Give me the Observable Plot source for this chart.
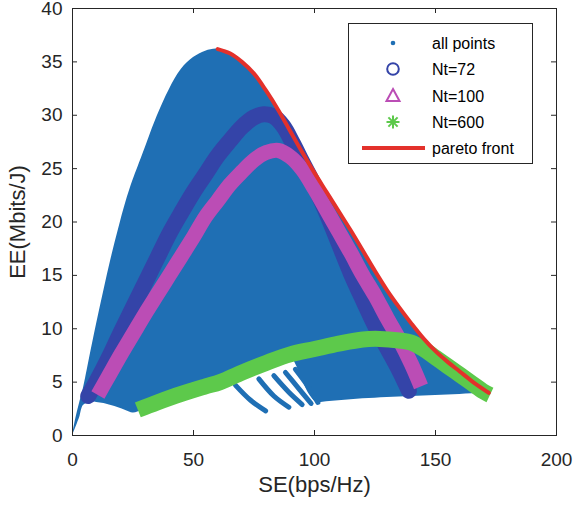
<!DOCTYPE html>
<html><head><meta charset="utf-8">
<script src="https://cdn.jsdelivr.net/npm/d3@7"></script>
<script src="https://cdn.jsdelivr.net/npm/@observablehq/plot@0.6"></script>
<style>
body{margin:0;background:#fff;}
#wrap{position:relative;width:576px;height:509px;font-family:"Liberation Sans",Arial,sans-serif;}
#legend{position:absolute;left:348px;top:23px;}
</style>
</head><body>
<div id="wrap"><div id="chart"></div><div id="legend"></div></div>
<script>
// ---- data ----
const xTicks = [0, 50, 100, 150, 200];
const yTicks = [0, 5, 10, 15, 20, 25, 30, 35, 40];

// "all points" region: SE positions with lower and upper EE envelope
const allSE = [0, 1, 2, 3, 4.5, 7, 10, 13, 16, 19, 22, 25, 27, 30, 35, 40, 45, 50, 55, 60, 65, 70, 75, 80, 85, 90, 92, 95, 98, 101, 105, 110, 115, 120, 125, 130, 135, 140, 145, 150, 155, 160, 165, 170, 172];
const allHi = [0, 1.2, 2.2, 3.1, 4.4, 7.2, 10.5, 13.6, 16.6, 19.3, 21.8, 23.9, 25.1, 26.9, 29.9, 32.4, 34.3, 35.4, 36.0, 36.2, 35.8, 35.0, 33.9, 32.3, 30.5, 28.5, 27.7, 26.5, 25.4, 24.4, 22.8, 21.0, 19.2, 17.3, 15.4, 13.6, 12.0, 10.5, 9.1, 7.9, 6.9, 6.0, 5.1, 4.3, 4.0];
const allLo = [0, 0.55, 1.1, 1.7, 2.8, 3.1, 3.1, 3.0, 2.8, 2.6, 2.35, 2.1, 2.2, 2.6, 3.1, 3.5, 3.9, 4.3, 4.6, 5.0, 5.4, 5.9, 6.3, 6.8, 7.2, 7.4, 6.8, 5.2, 3.8, 3.1, 3.15, 3.25, 3.35, 3.45, 3.5, 3.55, 3.6, 3.65, 3.7, 3.75, 3.8, 3.85, 3.9, 3.9, 3.9];

// stray arcs of "all points" below the Nt=600 curve
const arc1SE = [67.4, 73.6, 79.8], arc1EE = [4.7, 3.3, 2.3];
const arc2SE = [77.0, 83.2, 89.4], arc2EE = [5.3, 3.7, 2.65];
const arc3SE = [83.2, 89.4, 94.9], arc3EE = [5.6, 4.05, 2.9];
const arc4SE = [88.0, 93.5, 98.6], arc4EE = [5.9, 4.4, 3.0];
const arc5SE = [92.1, 97.0, 101.4], arc5EE = [6.2, 4.7, 3.1];

const nt72SE = [6.5, 10, 15, 20, 25, 30, 35, 40, 45, 50, 55, 60, 65, 70, 75, 79, 83, 87, 91, 95, 100, 105, 110, 115, 120, 125, 130, 135, 139];
const nt72EE = [3.7, 5.1, 7.3, 9.7, 12.0, 14.3, 16.6, 18.9, 20.9, 22.8, 24.5, 26.2, 27.6, 28.9, 29.8, 30.1, 29.9, 29.0, 27.4, 25.6, 23.4, 20.8, 18.0, 15.2, 12.7, 10.3, 8.2, 6.1, 4.2];

const nt100SE = [10.5, 15, 20, 25, 30, 35, 40, 45, 50, 55, 60, 65, 70, 75, 80, 85, 90, 95, 100, 105, 110, 115, 120, 125, 130, 135, 140, 144];
const nt100EE = [3.8, 5.6, 7.6, 9.5, 11.4, 13.2, 15.0, 16.8, 18.6, 20.5, 22.0, 23.5, 24.7, 25.8, 26.5, 26.7, 26.1, 24.9, 23.1, 21.1, 19.1, 17.1, 15.0, 13.1, 11.0, 9.0, 6.7, 4.6];

const nt600SE = [27, 35, 45, 55, 61, 70, 80, 90, 100, 110, 120, 127, 135, 140, 145, 150, 155, 160, 165, 170, 172.5];
const nt600EE = [2.4, 3.1, 3.9, 4.6, 5.0, 5.9, 6.8, 7.6, 8.1, 8.6, 9.0, 9.05, 8.9, 8.7, 8.1, 7.3, 6.5, 5.7, 4.9, 4.1, 3.8];

const paretoSE = [60, 65, 70, 75, 80, 85, 90, 95, 100, 105, 110, 115, 120, 125, 130, 135, 140, 145, 150, 155, 160, 165, 170, 172];
const paretoEE = [36.2, 35.8, 35.0, 33.9, 32.3, 30.5, 28.5, 26.5, 24.6, 22.8, 21.0, 19.2, 17.3, 15.4, 13.6, 12.0, 10.5, 9.1, 7.9, 6.9, 6.0, 5.1, 4.3, 4.0];

const legendLabels = ["all points", "Nt=72", "Nt=100", "Nt=600", "pareto front"];

// ---- styles ----
const cAll = "#1f6fb4", c72 = "#3444a8", c100 = "#bb4db5", c600 = "#5dc94b", cPareto = "#e3312b", ink = "#262626";
const W = 576, H = 509, mL = 72, mR = 20, mT = 8, mB = 74;
const plotW = W - mL - mR, plotH = H - mT - mB;

const rows = (xs, ys) => xs.map((x, i) => ({x, y: ys[i]}));
const allRows = allSE.map((x, i) => ({x, lo: allLo[i], hi: allHi[i]}));
const arcs = [[arc1SE, arc1EE], [arc2SE, arc2EE], [arc3SE, arc3EE], [arc4SE, arc4EE], [arc5SE, arc5EE]];
const smooth = "catmull-rom";

const chart = Plot.plot({
  width: W, height: H, marginLeft: mL, marginRight: mR, marginTop: mT, marginBottom: mB,
  style: {fontFamily: "Liberation Sans, Arial, sans-serif", fontSize: "19px", color: ink, background: "white", overflow: "visible"},
  x: {domain: [0, 200]},
  y: {domain: [0, 40]},
  marks: [
    Plot.areaY(allRows, {x: "x", y1: "lo", y2: "hi", fill: cAll, curve: smooth}),
    ...arcs.map(([xs, ys]) => Plot.line(rows(xs, ys), {x: "x", y: "y", stroke: cAll, strokeWidth: 5, strokeLinecap: "round", curve: smooth})),
    Plot.line(rows(nt72SE, nt72EE), {x: "x", y: "y", stroke: c72, strokeWidth: 16, strokeLinecap: "round", strokeLinejoin: "round", curve: smooth}),
    Plot.line(rows(nt100SE, nt100EE), {x: "x", y: "y", stroke: c100, strokeWidth: 15, strokeLinecap: "butt", strokeLinejoin: "round", curve: smooth}),
    Plot.line(rows(nt600SE, nt600EE), {x: "x", y: "y", stroke: c600, strokeWidth: 16, strokeLinecap: "butt", strokeLinejoin: "round", curve: smooth}),
    Plot.line(rows(paretoSE, paretoEE), {x: "x", y: "y", stroke: cPareto, strokeWidth: 4, strokeLinecap: "round", curve: smooth}),
    Plot.frame({stroke: ink}),
    Plot.tickY(yTicks, {y: d => d, stroke: ink, insetRight: plotW - 5}),
    Plot.tickY(yTicks, {y: d => d, stroke: ink, insetLeft: plotW - 5}),
    Plot.tickX(xTicks, {x: d => d, stroke: ink, insetTop: plotH - 5}),
    Plot.tickX(xTicks, {x: d => d, stroke: ink, insetBottom: plotH - 5}),
    Plot.axisX({ticks: xTicks, tickSize: 0, tickPadding: 17, label: null, fill: ink}),
    Plot.axisY({ticks: yTicks, tickSize: 0, tickPadding: 10, label: null, fill: ink}),
    Plot.text(["SE(bps/Hz)"], {text: d => d, frameAnchor: "bottom", dy: 49, fontSize: 22, fill: ink, lineAnchor: "middle", textAnchor: "middle"}),
    Plot.text(["EE(Mbits/J)"], {text: d => d, frameAnchor: "left", dx: -55, rotate: -90, fontSize: 22, fill: ink, lineAnchor: "middle", textAnchor: "middle"})
  ]
});
document.getElementById("chart").appendChild(chart);

// ---- legend (inside the axes, top right) ----
const lw = 185, lh = 141, rowY = [20, 46, 73, 99, 125], symX = 45, txtX = 84;
const lg = d3.select("#legend").append("svg").attr("width", lw).attr("height", lh)
  .style("font-family", "Liberation Sans, Arial, sans-serif");
lg.append("rect").attr("x", 0.5).attr("y", 0.5).attr("width", lw - 1).attr("height", lh - 1)
  .attr("fill", "white").attr("stroke", ink);
lg.append("circle").attr("cx", symX).attr("cy", rowY[0]).attr("r", 2.3).attr("fill", cAll);
lg.append("circle").attr("cx", symX).attr("cy", rowY[1]).attr("r", 5.8).attr("fill", "none").attr("stroke", c72).attr("stroke-width", 2);
lg.append("path").attr("d", `M${symX},${rowY[2]-7}L${symX+6.5},${rowY[2]+5}L${symX-6.5},${rowY[2]+5}Z`).attr("fill", "none").attr("stroke", c100).attr("stroke-width", 2);
{
  const g = lg.append("g").attr("stroke", c600).attr("stroke-width", 2);
  for (let k = 0; k < 4; k++) {
    const a = k * Math.PI / 4, r = 6.5;
    g.append("line").attr("x1", symX - r * Math.cos(a)).attr("y1", rowY[3] - r * Math.sin(a))
      .attr("x2", symX + r * Math.cos(a)).attr("y2", rowY[3] + r * Math.sin(a));
  }
}
lg.append("line").attr("x1", 14).attr("x2", 77).attr("y1", rowY[4]).attr("y2", rowY[4]).attr("stroke", cPareto).attr("stroke-width", 4);
lg.selectAll("text.lbl").data(legendLabels).join("text").attr("class", "lbl")
  .attr("x", txtX).attr("y", (d, i) => rowY[i]).attr("dy", "0.35em")
  .attr("font-size", 16).attr("fill", "#000").text(d => d);
</script>
</body></html>
